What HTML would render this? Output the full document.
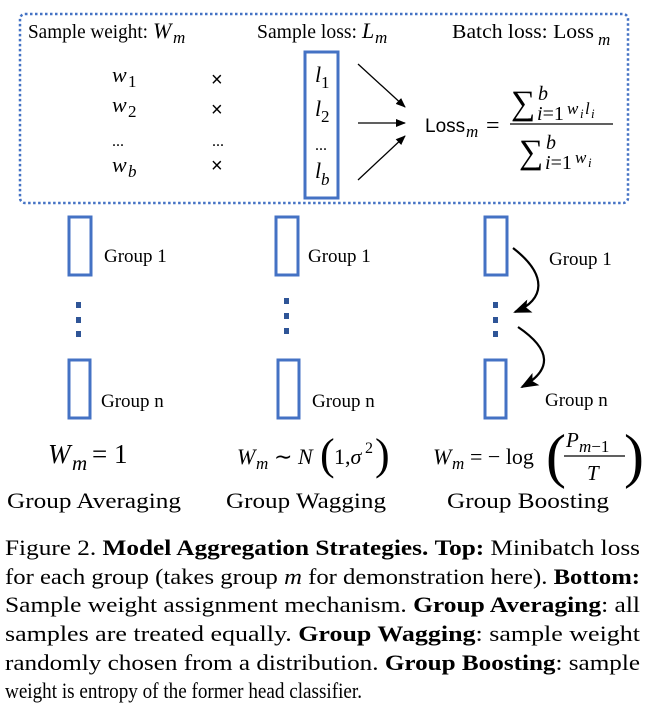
<!DOCTYPE html>
<html><head><meta charset="utf-8"><style>
html,body{margin:0;padding:0;background:#fff;}
svg{display:block;}
text{font-family:"Liberation Serif",serif;fill:#000;}
.i{font-style:italic;}
</style></head><body>
<svg width="653" height="720" viewBox="0 0 653 720" xmlns="http://www.w3.org/2000/svg">
<defs>
<marker id="a" markerWidth="10" markerHeight="8" refX="9" refY="4" orient="auto" markerUnits="userSpaceOnUse"><path d="M0,0 L10,4 L0,8 Z" fill="#000"/></marker>
<marker id="b" markerWidth="18" markerHeight="14" refX="16" refY="7" orient="auto" markerUnits="userSpaceOnUse"><path d="M0,0 L18,7 L0,14 L4,7 Z" fill="#000"/></marker>
</defs>
<rect x="20" y="14" width="608" height="189" rx="5" fill="none" stroke="#4472C4" stroke-width="2.5" stroke-dasharray="2.5,2.5"/>
<text x="28" y="38" font-size="20" textLength="120" lengthAdjust="spacingAndGlyphs">Sample weight:</text>
<text x="153" y="38" font-size="22" class="i">W</text><text x="173" y="43" font-size="17" class="i">m</text>
<text x="257" y="38" font-size="20" textLength="100" lengthAdjust="spacingAndGlyphs">Sample loss:</text>
<text x="362" y="38" font-size="22" class="i">L</text><text x="375" y="43" font-size="17" class="i">m</text>
<text x="452" y="38" font-size="20" textLength="142" lengthAdjust="spacingAndGlyphs">Batch loss: Loss</text>
<text x="598" y="45" font-size="17" class="i">m</text>
<!-- w column -->
<text x="112" y="82" font-size="22" class="i">w</text><text x="128" y="87" font-size="17">1</text>
<text x="112" y="112" font-size="22" class="i">w</text><text x="128" y="117" font-size="17">2</text>
<text x="112" y="172" font-size="22" class="i">w</text><text x="128" y="177" font-size="17" class="i">b</text>
<text x="112" y="146" font-size="16">...</text>
<text x="211" y="86" font-size="20" style="font-family:'Liberation Sans',sans-serif">×</text>
<text x="211" y="116" font-size="20" style="font-family:'Liberation Sans',sans-serif">×</text>
<text x="211" y="172" font-size="20" style="font-family:'Liberation Sans',sans-serif">×</text>
<text x="212" y="146" font-size="16">...</text>
<!-- l column -->
<rect x="305" y="52" width="33" height="146" fill="none" stroke="#4472C4" stroke-width="3"/>
<text x="315" y="82" font-size="22" class="i">l</text><text x="321" y="88" font-size="17">1</text>
<text x="315" y="116" font-size="22" class="i">l</text><text x="321" y="122" font-size="17">2</text>
<text x="315" y="150" font-size="16">...</text>
<text x="315" y="178" font-size="22" class="i">l</text><text x="321" y="185" font-size="17" class="i">b</text>
<line x1="358" y1="64" x2="405" y2="107" stroke="#000" stroke-width="1.3" marker-end="url(#a)"/>
<line x1="358" y1="123" x2="405" y2="123" stroke="#000" stroke-width="1.3" marker-end="url(#a)"/>
<line x1="358" y1="180" x2="405" y2="136" stroke="#000" stroke-width="1.3" marker-end="url(#a)"/>
<!-- formula -->
<text x="425" y="132" font-size="19" style="font-family:'Liberation Sans',sans-serif">Loss</text>
<text x="466" y="137" font-size="17" class="i">m</text>
<text x="486" y="133" font-size="24">=</text>
<text x="511" y="114" font-size="34">∑</text>
<text x="538" y="100" font-size="20" class="i">b</text>
<text x="537" y="120" font-size="20"><tspan class="i">i</tspan>=1</text>
<text x="567" y="114" font-size="17" class="i">w</text><text x="580" y="118" font-size="13" class="i">i</text>
<text x="585" y="114" font-size="17" class="i">l</text><text x="591" y="118" font-size="13" class="i">i</text>
<line x1="510" y1="124" x2="613" y2="124" stroke="#000" stroke-width="1.3"/>
<text x="519" y="163" font-size="34">∑</text>
<text x="546" y="149" font-size="20" class="i">b</text>
<text x="545" y="169" font-size="20"><tspan class="i">i</tspan>=1</text>
<text x="575" y="163" font-size="17" class="i">w</text><text x="588" y="167" font-size="13" class="i">i</text>
<!-- groups -->
<g fill="none" stroke="#4472C4" stroke-width="3">
<rect x="69" y="217" width="22" height="58"/><rect x="69" y="360" width="21" height="58"/>
<rect x="276" y="217" width="22" height="58"/><rect x="278" y="360" width="21" height="58"/>
<rect x="485" y="217" width="22" height="58"/><rect x="485" y="360" width="21" height="58"/>
</g>
<g fill="#2F5597">
<rect x="76" y="302" width="5" height="6"/><rect x="76" y="317" width="5" height="6"/><rect x="76" y="331" width="5" height="6"/>
<rect x="284" y="298" width="5" height="6"/><rect x="284" y="313" width="5" height="6"/><rect x="284" y="328" width="5" height="6"/>
<rect x="493" y="302" width="5" height="6"/><rect x="493" y="317" width="5" height="6"/><rect x="493" y="331" width="5" height="6"/>
</g>
<g font-size="19">
<text x="104" y="262">Group 1</text><text x="101" y="407">Group n</text>
<text x="308" y="262">Group 1</text><text x="312" y="407">Group n</text>
<text x="549" y="265">Group 1</text><text x="545" y="406">Group n</text>
</g>
<path d="M513,248 C548,275 545,300 515,312" fill="none" stroke="#000" stroke-width="2.2" marker-end="url(#b)"/>
<path d="M518,327 C552,350 552,370 522,387" fill="none" stroke="#000" stroke-width="2.2" marker-end="url(#b)"/>
<!-- formulas -->
<text x="48" y="463" font-size="27" class="i">W</text><text x="72" y="470" font-size="21" class="i">m</text>
<text x="92" y="463" font-size="27">= 1</text>
<text x="237" y="464" font-size="22" class="i">W</text><text x="256" y="469" font-size="17" class="i">m</text>
<text x="274" y="464" font-size="22">∼ <tspan class="i">N</tspan></text>
<text x="320" y="469" font-size="44" transform="translate(0,0)">(</text>
<text x="334" y="464" font-size="22">1,<tspan class="i">σ</tspan></text>
<text x="365" y="453" font-size="16">2</text>
<text x="375" y="469" font-size="44">)</text>
<text x="433" y="464" font-size="22" class="i">W</text><text x="452" y="469" font-size="17" class="i">m</text>
<text x="470" y="464" font-size="22">= − log</text>
<text x="546" y="476" font-size="60">(</text>
<text x="566" y="447" font-size="21" class="i">P</text>
<text x="579" y="452" font-size="17"><tspan class="i">m</tspan>−1</text>
<line x1="564" y1="456" x2="625" y2="456" stroke="#000" stroke-width="1.3"/>
<text x="587" y="480" font-size="21" class="i">T</text>
<text x="624" y="476" font-size="60">)</text>
<g font-size="22">
<text x="7" y="508" textLength="174" lengthAdjust="spacingAndGlyphs">Group Averaging</text>
<text x="226" y="508" textLength="160" lengthAdjust="spacingAndGlyphs">Group Wagging</text>
<text x="447" y="508" textLength="162" lengthAdjust="spacingAndGlyphs">Group Boosting</text>
</g>
<!-- caption -->
<g font-size="22">
<text x="5" y="555" textLength="635" lengthAdjust="spacingAndGlyphs">Figure 2. <tspan font-weight="bold">Model Aggregation Strategies.</tspan>  <tspan font-weight="bold">Top:</tspan> Minibatch loss</text>
<text x="5" y="584" textLength="635" lengthAdjust="spacingAndGlyphs">for each group (takes group <tspan class="i">m</tspan> for demonstration here). <tspan font-weight="bold">Bottom:</tspan></text>
<text x="5" y="612" textLength="635" lengthAdjust="spacingAndGlyphs">Sample weight assignment mechanism.  <tspan font-weight="bold">Group Averaging</tspan>:  all</text>
<text x="5" y="641" textLength="635" lengthAdjust="spacingAndGlyphs">samples are treated equally.  <tspan font-weight="bold">Group Wagging</tspan>:  sample weight</text>
<text x="5" y="670" textLength="635" lengthAdjust="spacingAndGlyphs">randomly chosen from a distribution.  <tspan font-weight="bold">Group Boosting</tspan>:  sample</text>
<text x="5" y="698" textLength="357" lengthAdjust="spacingAndGlyphs">weight is entropy of the former head classifier.</text>
</g>
</svg>
</body></html>
